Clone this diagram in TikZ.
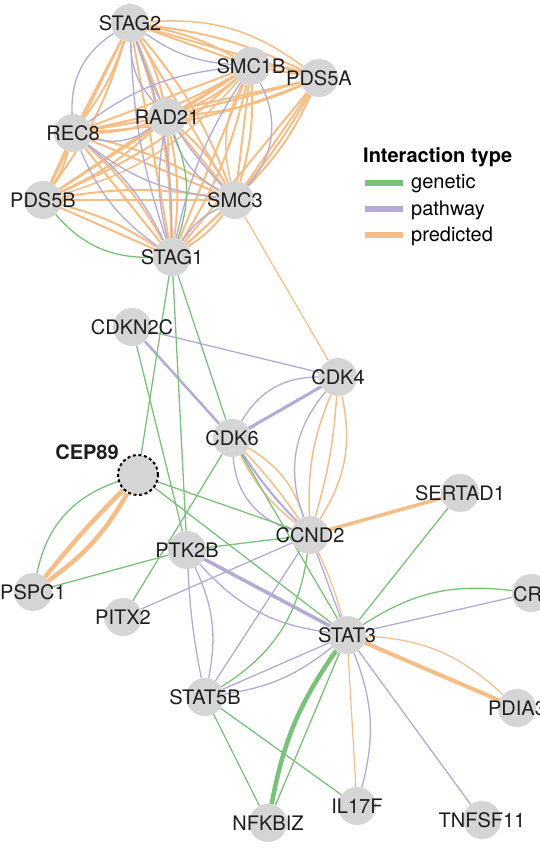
\documentclass[tikz,border=0pt]{standalone}
\usepackage{fontspec}
\setmainfont{TeX Gyre Heros}
\usepackage{xcolor}
\usepackage{tikz}
\usetikzlibrary{backgrounds}
\definecolor{genetic}{RGB}{122,193,122}
\definecolor{pathway}{RGB}{180,170,214}
\definecolor{predicted}{RGB}{246,190,134}
\definecolor{nodegray}{RGB}{213,213,213}
\definecolor{labelgray}{RGB}{30,30,30}

\begin{document}
\begin{tikzpicture}[x=1pt, y=-1pt,
		gene/.style={circle, fill=nodegray, minimum size=38pt, inner sep=0pt, label={[genelabel]center:#1}},
		genelabel/.style={text=labelgray, font=\fontsize{20}{20}\selectfont, inner sep=0pt},
		gen/.style={genetic, line width=1.3pt},
		pwy/.style={pathway, line width=1.3pt},
		pred/.style={predicted, line width=1.5pt},
		legtext/.style={anchor=west, text=black, font=\fontsize{20}{20}\selectfont, inner sep=0pt}]
		\useasboundingbox (0,0) rectangle (540,852);
		
		% cohesin
		\node[gene=STAG2] (stag2) at (130,23) {};
		\node[gene=SMC1B] (smc1b) at (251,66) {};
		\node[gene=PDS5A] (pds5a) at (319,78) {};
		\node[gene=RAD21] (rad21) at (167,117) {};
		\node[gene=REC8] (rec8) at (73,133) {};
		\node[gene=PDS5B] (pds5b) at (43,200) {};
		\node[gene=SMC3] (smc3) at (235,200) {};
		\node[gene=STAG1] (stag1) at (172,257) {};
		
		% cell cycle
		\node[gene=CDKN2C] (cdkn2c) at (132,327) {};
		\node[gene=CDK4] (cdk4) at (338,377) {};
		\node[gene=CDK6] (cdk6) at (232,438) {};
		\node[gene=SERTAD1] (sertad1) at (460,493) {};
		\node[gene=CCND2] (ccnd2) at (310,535) {};
		
		% query
		\node[circle, fill=nodegray, draw=black, line width=2pt, dash pattern=on 3pt off 2.6pt, minimum size=40pt, inner sep=0pt] (cep89) at (138,475) {};
		\node[text=labelgray, font=\fontsize{20}{20}\selectfont\bfseries, inner sep=0pt] (ceplabel) at (87,452) {CEP89};
		
		% signalling
		\node[gene=PTK2B] (ptk2b) at (187,550) {};
		\node[gene=PSPC1] (pspc1) at (33,592) {};
		\node[gene=PITX2] (pitx2) at (123,617) {};
		\node[circle, fill=nodegray, minimum size=38pt, inner sep=0pt] (cr) at (531,593) {};
		\node[genelabel, anchor=west] (crlabel) at (513,594) {CR};
		\node[gene=STAT3] (stat3) at (347,635) {};
		\node[gene=PDIA3] (pdia3) at (517,708) {};
		\node[gene=STAT5B] (stat5b) at (205,697) {};
		\node[gene=NFKBIZ] (nfkbiz) at (268,823) {};
		\node[gene=IL17F] (il17f) at (357,806) {};
		\node[gene=TNFSF11] (tnfsf11) at (482,820) {};
		
		\begin{scope}[on background layer]
			% predicted
			\foreach \a/\b in {stag2/smc1b, stag2/pds5a, stag2/rad21, stag2/rec8, stag2/pds5b, stag2/smc3, stag2/stag1, smc1b/pds5a, smc1b/rad21, smc1b/rec8, smc1b/pds5b, smc1b/smc3, smc1b/stag1, pds5a/rad21, pds5a/rec8, pds5a/smc3, pds5a/stag1, rad21/rec8, rad21/pds5b, rad21/smc3, rad21/stag1, rec8/pds5b, rec8/smc3, rec8/stag1, pds5b/smc3, pds5b/stag1, smc3/stag1}
			{\draw[pred, line width=2pt] (\a) -- (\b); \draw[pred, line width=2pt] (\a) to[bend left=9] (\b);}
			\draw[pred] (stag2) to[bend left=20] (pds5a);
			\draw[pred] (smc1b) to[bend right=20] (smc3);
			\draw[pred] (smc1b) to[bend left=16] (pds5b);
			\draw[pred, line width=1.2pt] (smc3) -- (cdk4);
			\draw[pred, line width=4.5pt] (cep89) to[bend right=3] (pspc1);
			\draw[pred, line width=4.5pt] (cep89) to[bend left=12] (pspc1);
			\draw[pred] (cdk6) to[bend left=20] (ccnd2);
			\draw[pred] (cdk6) to[bend left=4] (ccnd2);
			\draw[pred] (cdk6) to[bend right=12] (ccnd2);
			\draw[pred] (cdk4) to[bend left=22] (ccnd2);
			\draw[pred] (cdk4) to[bend left=6] (ccnd2);
			\draw[pred] (cdk4) to[bend right=12] (ccnd2);
			\draw[pred, line width=3.5pt] (ccnd2) -- (sertad1);
			\draw[pred, line width=1.2pt] (ccnd2) to[bend left=5] (stat3);
			\draw[pred, line width=1.2pt] (stat3) -- (il17f);
			\draw[pred, line width=4pt] (stat3) -- (pdia3);
			\draw[pred, line width=1.2pt] (stat3) to[bend left=20] (pdia3);
			
			% pathway
			\foreach \a/\b/\n in {stag2/rec8/30, stag2/smc1b/15, stag2/rad21/20, stag2/smc3/12, stag2/stag1/8, stag2/stag1/-10, rec8/rad21/25, rec8/smc3/15, rec8/stag1/15, rad21/smc3/20, rad21/stag1/12, smc1b/smc3/-35, smc1b/rec8/15, smc3/stag1/15, smc1b/stag1/10, rec8/stag1/-12}
			{\draw[pwy] (\a) to[bend right=\n] (\b);}
			\draw[pwy] (cdkn2c) -- (cdk4);
			\draw[pwy, line width=2.5pt] (cdkn2c) -- (cdk6);
			\draw[pwy, line width=3pt] (cdk6) -- (cdk4);
			\draw[pwy] (cdk6) to[bend left=30] (cdk4);
			\draw[pwy] (cdk6) to[bend right=35] (ccnd2);
			\draw[pwy, line width=2pt] (cdk6) to[bend right=5] (ccnd2);
			\draw[pwy] (cdk4) to[bend right=30] (ccnd2);
			\draw[pwy] (pitx2) -- (ccnd2);
			\draw[pwy, line width=3.5pt] (ptk2b) -- (stat3);
			\draw[pwy] (ptk2b) to[bend right=20] (stat3);
			\draw[pwy] (ptk2b) to[bend right=4] (stat5b);
			\draw[pwy] (ptk2b) to[bend left=18] (stat5b);
			\draw[pwy] (ccnd2) -- (stat3);
			\draw[pwy] (ccnd2) -- (stat5b);
			\draw[pwy] (stat5b) -- (stat3);
			\draw[pwy] (stat5b) to[bend right=15] (stat3);
			\draw[pwy] (stat3) to[bend left=18] (il17f);
			\draw[pwy] (stat3) -- (tnfsf11);
			\draw[pwy] (stat3) -- (cr);
			
			% genetic
			\draw[gen] (pds5b) to[bend right=25] (stag1);
			\draw[gen] (rad21) to[bend left=20] (stag1);
			\draw[gen] (stag1) -- (cep89);
			\draw[gen] (stag1) -- (ptk2b);
			\draw[gen] (stag1) -- (cdk6);
			\draw[gen] (cdkn2c) -- (ptk2b);
			\draw[gen] (cdk6) -- (pitx2);
			\draw[gen] (cdk6) -- (stat3);
			\draw[gen] (cep89) to[bend right=30] (pspc1);
			\draw[gen] (cep89) -- (ccnd2);
			\draw[gen] (cep89) -- (stat3);
			\draw[gen] (pspc1) -- (ptk2b);
			\draw[gen] (ptk2b) -- (ccnd2);
			\draw[gen] (ccnd2) to[bend left=25] (stat5b);
			\draw[gen] (stat5b) -- (nfkbiz);
			\draw[gen] (stat5b) -- (il17f);
			\draw[gen] (nfkbiz) -- (stat3);
			\draw[gen, line width=4.5pt] (nfkbiz) to[bend left=12] (stat3);
			\draw[gen] (stat3) -- (sertad1);
			\draw[gen] (stat3) to[bend left=20] (cr);
		\end{scope}
		
		% legend
		\node[legtext, font=\fontsize{20}{20}\selectfont\bfseries] (legtitle) at (363,157) {Interaction type};
		\node[legtext] (lgenetic) at (411,184) {genetic};
		\node[legtext] (lpathway) at (411,210) {pathway};
		\node[legtext] (lpredicted) at (411,236) {predicted};
		\draw[genetic, line width=6.5pt] (365,183) -- (403,183);
		\draw[pathway, line width=6.5pt] (365,209) -- (403,209);
		\draw[predicted, line width=6.5pt] (365,235) -- (403,235);
	\end{tikzpicture}
\end{document}
